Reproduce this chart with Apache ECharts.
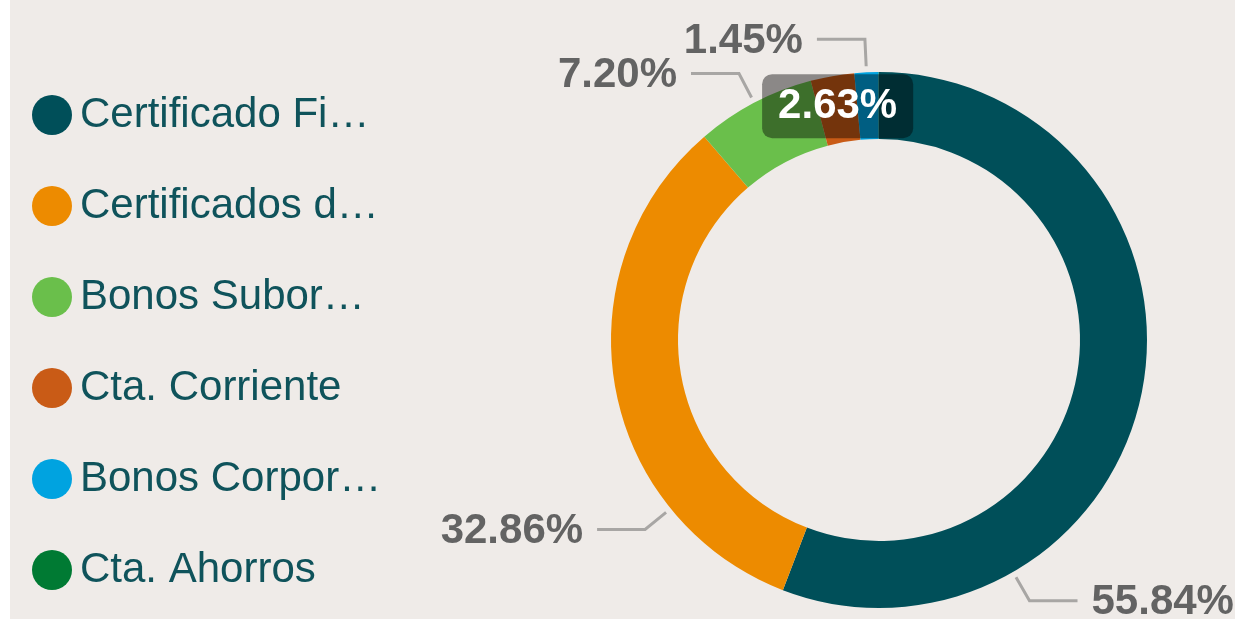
<!DOCTYPE html>
<html>
<head>
<meta charset="UTF-8">
<title>Portafolio</title>
<style>
  html, body { margin: 0; padding: 0; background: #ffffff; }
  #main { position: absolute; left: 10px; top: 0; width: 1225px; height: 619px; background: #efebe8; }
</style>
<script src="https://cdn.jsdelivr.net/npm/echarts@6/dist/echarts.min.js"></script>
</head>
<body>
<div id="main"></div>
<script>
// categories and shares (%)
var categories = ['Certificado Financiero', 'Certificados de Depósito', 'Bonos Subordinados',
                  'Cta. Corriente', 'Bonos Corporativos', 'Cta. Ahorros'];
var shares = [55.84, 32.86, 7.20, 2.63, 1.45, 0.02];
var colors = ['#004f59', '#ed8b00', '#6abf4b', '#c95b16', '#00a3e0', '#007a33'];

// layout of the ring and its callouts (pixels inside the chart)
var CX = 869, CY = 340, R_IN = 201, R_OUT = 268;
var LINE_FROM = 274, LINE_TO = 301, LINE_FLAT = 48, TEXT_GAP = 14, TEXT_DY = 2;
// some callouts sit away from the slice middle in the original
var calloutAngle = { 0: 150, 1: 231 };

var chart = echarts.init(document.getElementById('main'));

// middle angle of each slice, clockwise from 12 o'clock
var total = shares.reduce(function (a, b) { return a + b; }, 0);
var midAngle = [], acc = 0;
shares.forEach(function (v) {
  midAngle.push((acc + v / 2) / total * 360);
  acc += v;
});

var data = categories.map(function (name, i) {
  var item = { name: name, value: shares[i], itemStyle: { color: colors[i] } };
  if (name === 'Cta. Corriente') {
    item.label = {
      position: 'inside', color: '#ffffff', fontSize: 42, fontWeight: 'bold',
      backgroundColor: 'rgba(0,0,0,0.42)', borderRadius: 10, padding: [13, 16, 9, 16]
    };
    item.labelLine = { show: false };
  }
  if (name === 'Cta. Ahorros') {
    item.label = { show: false };
    item.labelLine = { show: false };
  }
  return item;
});

var option = {
  animation: false,
  textStyle: { fontFamily: 'Liberation Sans, Arial, sans-serif' },
  legend: {
    orient: 'vertical',
    left: 22,
    top: 94,
    padding: 0,
    icon: 'circle',
    itemWidth: 40,
    itemHeight: 40,
    itemGap: 49,
    selectedMode: false,
    data: categories,
    textStyle: {
      color: '#0f535b', fontSize: 42, width: 307, overflow: 'truncate', ellipsis: '…',
      padding: [0, 0, 0, 3]
    }
  },
  series: [{
    type: 'pie',
    center: [CX, CY],
    radius: [R_IN, R_OUT],
    startAngle: 90,
    clockwise: true,
    avoidLabelOverlap: false,
    emphasis: { disabled: true },
    itemStyle: { borderWidth: 0 },
    label: {
      show: true,
      color: '#636363',
      fontSize: 42,
      fontWeight: 'bold',
      formatter: function (p) { return p.value.toFixed(2) + '%'; }
    },
    labelLine: {
      show: true,
      length: 27,
      length2: 48,
      lineStyle: { color: '#a8a6a4', width: 3 }
    },
    labelLayout: function (p) {
      var i = p.dataIndex;
      if (categories[i] === 'Cta. Corriente' || categories[i] === 'Cta. Ahorros') return;
      var a = (calloutAngle[i] != null ? calloutAngle[i] : midAngle[i]) * Math.PI / 180;
      var sx = Math.sin(a), sy = -Math.cos(a);
      var p0 = [CX + LINE_FROM * sx, CY + LINE_FROM * sy];
      var p1 = [CX + LINE_TO * sx, CY + LINE_TO * sy];
      var dir = sx >= 0 ? 1 : -1;
      var p2 = [p1[0] + dir * LINE_FLAT, p1[1]];
      return {
        x: p2[0] + dir * TEXT_GAP,
        y: p2[1] + TEXT_DY,
        align: dir > 0 ? 'left' : 'right',
        verticalAlign: 'middle',
        labelLinePoints: [p0, p1, p2]
      };
    },
    data: data
  }]
};

chart.setOption(option);
</script>
</body>
</html>
